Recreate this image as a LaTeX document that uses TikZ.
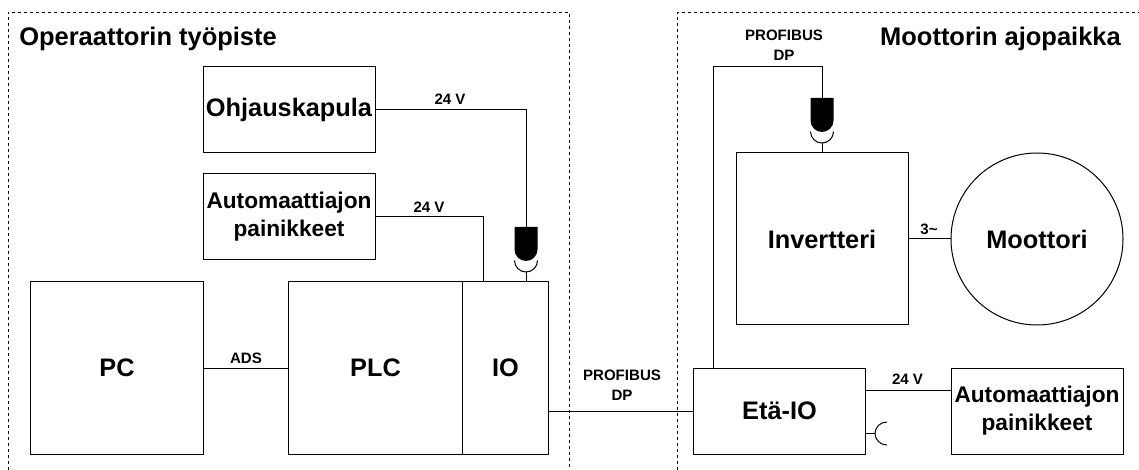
\documentclass[tikz,border=0pt]{standalone}
\usepackage{fontspec}
\setmainfont{Liberation Sans}
\usetikzlibrary{positioning,calc}
\tikzset{
  blk/.style={draw=black,line width=0.75pt,fill=white,inner sep=0pt,align=center,font=\fontsize{19}{21}\selectfont\bfseries},
  blks/.style={blk,font=\fontsize{17}{21}\selectfont\bfseries},
  frm/.style={draw=black,line width=0.6pt,dash pattern=on 2.25pt off 2.25pt},
  wire/.style={draw=black,line width=0.75pt},
  lbl/.style={inner sep=0pt,align=center,font=\fontsize{11.3}{15}\selectfont\bfseries},
  ttl/.style={inner sep=0pt,font=\fontsize{19.1}{22}\selectfont\bfseries},
  plug/.pic={
    \fill[black] (-11.5,0) -- (11.5,0) -- (11.5,22.5) arc[start angle=0,end angle=180,radius=11.5] -- cycle;
    \draw[line width=0.75pt] (-11.5,33.5) arc[start angle=180,end angle=0,radius=11.5];
    \coordinate (-top) at (0,0);
    \coordinate (-bot) at (0,45);
  },
}
\begin{document}
\begin{tikzpicture}[x=0.75pt,y=-0.75pt]
  \useasboundingbox (0,0) rectangle (1139,470);
  % frames
  \draw[frm] (8,470) |- (569,12.5) -- (569,470);
  \draw[frm] (677,470) |- (1139,12.5);
  \node[ttl,anchor=base west] (tleft) at (19,46) {Operaattorin työpiste};
  \node[ttl,anchor=base east] (tright) at (1121,46) {Moottorin ajopaikka};
  % left side
  \node[blk,minimum width=129pt,minimum height=64.5pt] (kapula) at (289,109.5) {Ohjauskapula};
  \node[blks,minimum width=129pt,minimum height=64.5pt] (auto) at (289,217) {Automaattiajon\\painikkeet};
  \node[blk,minimum width=130pt,minimum height=129pt] (pc) at (117,368) {PC};
  \node[blk,minimum width=130pt,minimum height=129pt] (plc) at (375.5,368) {PLC};
  \node[blk,minimum width=65pt,minimum height=129pt] (io) at (505.5,368) {IO};
  % right side
  \node[blk,minimum width=129pt,minimum height=129pt] (inv) at (822,239) {Invertteri};
  \node[blk,circle,minimum size=129pt] (motor) at (1037,239) {Moottori};
  \node[blk,minimum width=129pt,minimum height=64.5pt] (eta) at (779.5,411) {Etä-IO};
  \node[blks,minimum width=129pt,minimum height=64.5pt] (auto2) at (1037,411) {Automaattiajon\\painikkeet};
  % plugs
  \pic (pa) at (526,227) {plug};
  \pic (pb) at (822,98) {plug};
  % wires
  \coordinate (iodrop) at (483,282);
  \coordinate (bend) at (713,67);
  \draw[wire] (kapula.east) -| (pa-top);
  \draw[wire] (pa-bot) -- (pa-bot |- io.north);
  \draw[wire] (auto.east) -| (iodrop);
  \draw[wire] (pc.east) -- (plc.west);
  \draw[wire] (io.east |- eta.west) -- (eta.west);
  \draw[wire] (inv.east) -- (motor.west);
  \draw[wire] (eta.east |- 0,390) -- (auto2.west |- 0,390);
  \draw[wire] (bend |- eta.north) -- (bend) -| (pb-top);
  \draw[wire] (pb-bot) -- (inv.north);
  % socket on remote io
  \coordinate (sock) at (875,433);
  \draw[wire] (eta.east |- sock) -- (sock);
  \draw[wire] (887,422) arc[start angle=270,end angle=90,x radius=12,y radius=11.5];
  % labels
  \node[lbl] (v1) at (450,99) {24 V};
  \node[lbl] (v2) at (429,207) {24 V};
  \node[lbl] (ads) at (246,358) {ADS};
  \node[lbl] (pb1) at (622,385) {PROFIBUS\\DP};
  \node[lbl] (pb2) at (784,45) {PROFIBUS\\DP};
  \node[lbl] (ph) at (929,229) {3\textasciitilde};
  \node[lbl] (v3) at (907.5,379) {24 V};
\end{tikzpicture}
\end{document}
